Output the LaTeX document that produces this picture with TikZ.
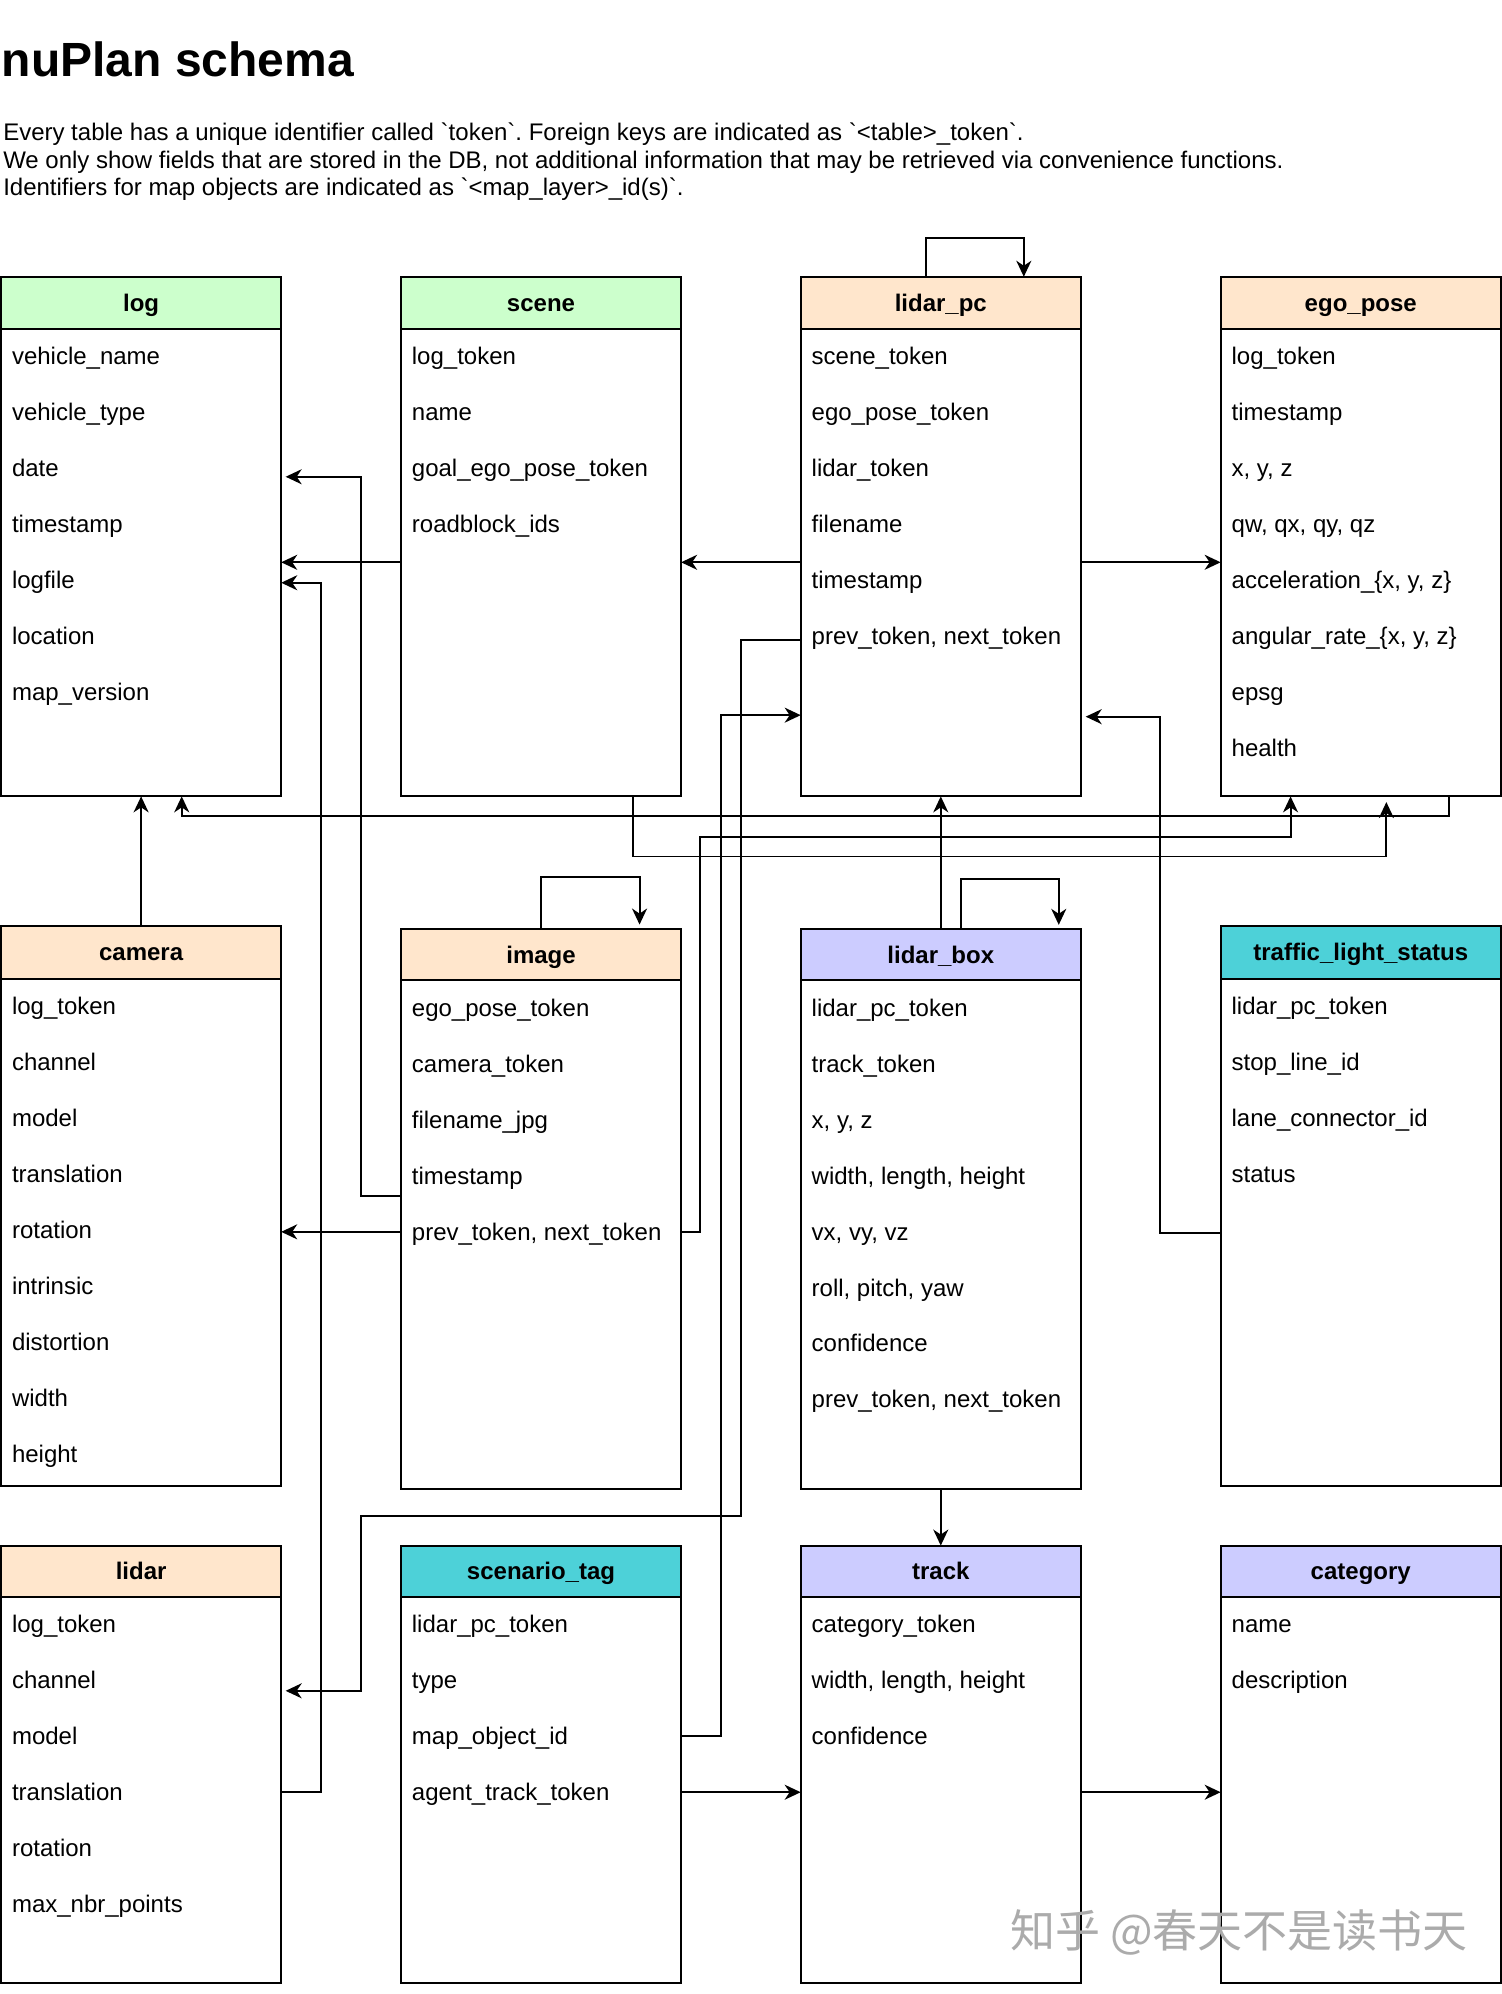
\documentclass[tikz,border=0pt]{standalone}
\usepackage{fontspec}
\setmainfont{Liberation Sans}[Ligatures=TeXOff]
\newfontfamily\cjk{Noto Sans CJK SC}
\usetikzlibrary{arrows.meta,calc}
\definecolor{hgreen}{HTML}{CCFFCC}
\definecolor{horange}{HTML}{FFE6CC}
\definecolor{hpurple}{HTML}{CCCCFF}
\definecolor{hcyan}{HTML}{4DD1D8}
\def\U{1.2707pt}
\frenchspacing
\tikzset{
 tbox/.style={draw, line width=2pt, minimum width=220.5*\U, inner sep=0, outer sep=0},
 tline/.style={line width=2pt},
 hdr/.style={font=\bfseries\fontsize{24}{28}\selectfont, inner sep=0, text height=21.7pt, text depth=5.1pt},
 fld/.style={font=\fontsize{24}{28}\selectfont, inner sep=0, anchor=west, text height=21.7pt, text depth=5.1pt},
 conn/.style={line width=1.9pt, -{Stealth[length=16pt,width=15pt,inset=5pt]}},
 txt/.style={font=\fontsize{24}{28}\selectfont, inner sep=0, anchor=base west},
}
\newcommand\dbt[8]{%
  \fill[#6] (#2,#3) rectangle ({#2+220.5},#4);
  \node[tbox, minimum height={(#5-#3)*\U}, anchor=north west] (#1) at (#2,#3) {};
  \draw[tline] (#2,#4) -- ({#2+220.5},#4);
  \node[hdr] (#1-h) at ({#2+110.25},{(#3+#4)/2}) {#7};
  \foreach \t [count=\i] in {#8} \node[fld] (#1-\i) at ({#2+8.5},{#4+21.8+44*(\i-1)}) {\t};
}
\begin{document}
\begin{tikzpicture}[x=\U, y=-\U]
\useasboundingbox[fill=white] (0,0) rectangle (1182,1569.2);

\node[anchor=base west, inner sep=0, font=\bfseries\fontsize{48}{56}\selectfont] (title) at (1.2,60.3) {nuPlan schema};
\node[txt] (d1) at (2.4,110.2) {Every table has a unique identifier called `token`. Foreign keys are indicated as `<table>\_token`.};
\node[txt] (d2) at (2.4,132.5) {We only show fields that are stored in the DB, not additional information that may be retrieved via convenience functions.};
\node[txt] (d3) at (2.4,154.2) {Identifiers for map objects are indicated as `<map\_layer>\_id(s)`.};

\dbt{log}{0.8}{217.8}{258.7}{626.7}{hgreen}{log}{vehicle\_name, vehicle\_type, date, timestamp, logfile, location, map\_version}
\dbt{scene}{315.5}{217.8}{258.7}{626.7}{hgreen}{scene}{log\_token, name, goal\_ego\_pose\_token, roadblock\_ids}
\dbt{lidarpc}{630.1}{217.8}{258.7}{626.7}{horange}{lidar\_pc}{scene\_token, ego\_pose\_token, lidar\_token, filename, timestamp, {prev\_token, next\_token}}
\dbt{ego}{960.6}{217.8}{258.7}{626.7}{horange}{ego\_pose}{log\_token, timestamp, {x, y, z}, {qw, qx, qy, qz}, {acceleration\_\{x, y, z\}}, {angular\_rate\_\{x, y, z\}}, epsg, health}
\dbt{camera}{0.8}{729}{770.3}{1169.8}{horange}{camera}{log\_token, channel, model, translation, rotation, intrinsic, distortion, width, height}
\dbt{image}{315.5}{731.1}{771.6}{1171.6}{horange}{image}{ego\_pose\_token, camera\_token, filename\_jpg, timestamp, {prev\_token, next\_token}}
\dbt{lbox}{630.1}{731.1}{771.6}{1171.6}{hpurple}{lidar\_box}{lidar\_pc\_token, track\_token, {x, y, z}, {width, length, height}, {vx, vy, vz}, {roll, pitch, yaw}, confidence, {prev\_token, next\_token}}
\dbt{tls}{960.6}{729}{770.3}{1169.8}{hcyan}{traffic\_light\_status}{lidar\_pc\_token, stop\_line\_id, lane\_connector\_id, status}
\dbt{lidar}{0.8}{1216.3}{1256.6}{1560.5}{horange}{lidar}{log\_token, channel, model, translation, rotation, max\_nbr\_points}
\dbt{stag}{315.5}{1216.3}{1256.6}{1560.5}{hcyan}{scenario\_tag}{lidar\_pc\_token, type, map\_object\_id, agent\_track\_token}
\dbt{track}{630.1}{1216.3}{1256.6}{1560.5}{hpurple}{track}{category\_token, {width, length, height}, confidence}
\dbt{cat}{960.6}{1216.3}{1256.6}{1560.5}{hpurple}{category}{name, description}

% connectors
\draw[conn] (scene.west |- 0,442.5) -- (log.east |- 0,442.5);
\draw[conn] (image.west |- 0,941) -| (284,375.2) -- ($(log.east |- 0,375.2)+(3.5,0)$);
\draw[conn] (lidar.east |- lidar-4) -| (252.5,458.6) -- (log.east |- 0,458.6);
\draw[conn] (camera.north) -- (log.south);
\draw[conn] (ego.south -| 1140,0) |- (143,642.3) -- (log.south -| 143,0);
\draw[conn] (lidarpc.west |- 0,442.5) -- (scene.east |- 0,442.5);
\draw[conn] (lidarpc.east |- 0,442.5) -- (ego.west |- 0,442.5);
\draw[conn] (lidarpc.north -| 729,0) |- (805.7,187.6) -- (lidarpc.north -| 805.7,0);
\draw[conn] (lbox.north) -- (lidarpc.south);
\draw[conn] (lbox.north -| 756.3,0) |- (833.2,691.7) -- ($(lbox.north -| 833.2,0)+(0,-3.3)$);
\draw[conn] (image.north -| 426,0) |- (503.3,690.2) -- ($(image.north -| 503.3,0)+(0,-3.5)$);
\draw[conn] (image.west |- image-5) -- (camera.east |- image-5);
\draw[conn] (image.east |- image-5) -| (551,658.5) -| (ego.south -| 1015.6,0);
\draw[conn] (scene.south -| 497.8,0) |- (1091,674) -- ($(ego.south -| 1091,0)+(0,4.5)$);
\draw[conn] (lidarpc.west |- 0,504) -| (582.9,1193) -| (284,1330.6) -- ($(lidar.east |- 0,1330.6)+(3.5,0)$);
\draw[conn] (stag.east |- stag-3) -| (567.3,562.8) -- (lidarpc.west |- 0,562.8);
\draw[conn] (tls.west |- 0,970) -| (913.2,564) -- ($(lidarpc.east |- 0,564)+(3.8,0)$);
\draw[conn] (lbox.south) -- (track.north);
\draw[conn] (stag.east |- stag-4) -- (track.west |- stag-4);
\draw[conn] (track.east |- stag-4) -- (cat.west |- stag-4);

\node[font=\cjk\fontsize{45}{50}\selectfont, text=black!33, inner sep=0] (wm) at (975,1521) {知乎 @春天不是读书天};
\end{tikzpicture}
\end{document}
